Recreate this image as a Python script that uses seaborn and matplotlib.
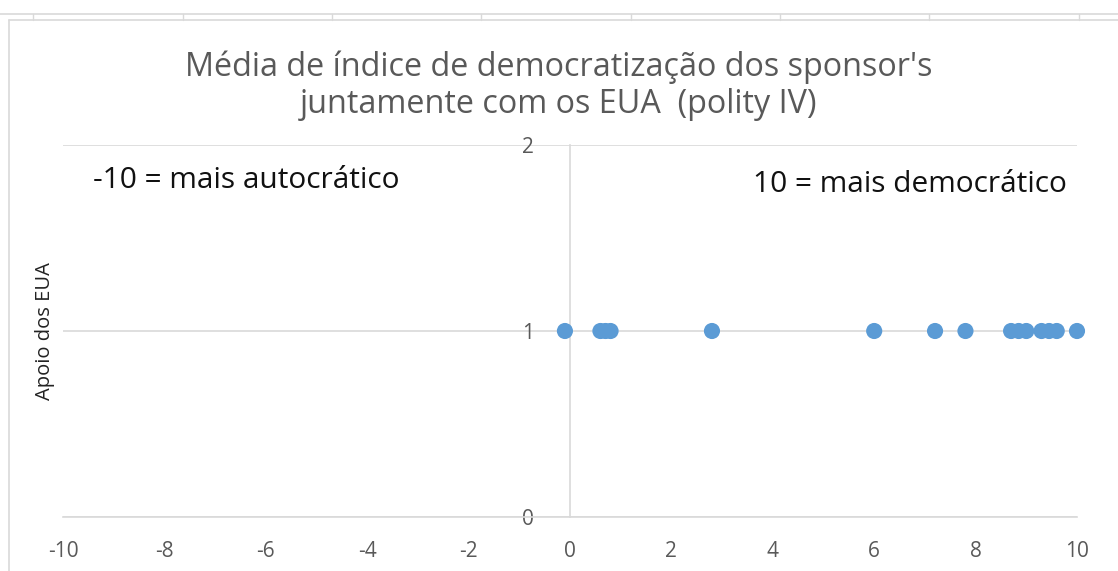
import matplotlib.pyplot as plt
import seaborn as sns
import pandas as pd
from matplotlib.lines import Line2D

# Média polity IV dos sponsors (eixo x) e apoio dos EUA (eixo y)
POLITY = [-0.1, 0.6, 0.7, 0.8, 2.8, 6.0, 7.2, 7.8, 8.7, 8.85, 9.0, 9.3, 9.45, 9.6, 10.0]
APOIO = [1] * len(POLITY)
X_TICKS = list(range(-10, 11, 2))
Y_TICKS = [0, 1, 2]
TITLE = "Média de índice de democratização dos sponsor's\njuntamente com os EUA  (polity IV)"
OUTPUT_FILE = "out.png"

df = pd.DataFrame({"polity": POLITY, "apoio": APOIO})

sns.set_style("white")
plt.rcParams["font.family"] = ["Open Sans", "DejaVu Sans"]
plt.rcParams["axes.unicode_minus"] = False

fig = plt.figure(figsize=(11.18, 5.71), dpi=100)
ax = fig.add_axes([63 / 1118, 1 - 517 / 571, (1077 - 63) / 1118, (517 - 145) / 571])

# spreadsheet chrome behind the chart
grid_c = "#d9d9d9"
fig.add_artist(Line2D([0, 1], [1 - 14 / 571, 1 - 14 / 571], color=grid_c, lw=1.2))
for px in [33, 183, 332, 481, 631, 780, 929, 1079]:
    fig.add_artist(Line2D([px / 1118, px / 1118], [1 - 14 / 571, 1 - 20 / 571], color=grid_c, lw=1))
fig.add_artist(Line2D([9 / 1118, 1], [1 - 20 / 571, 1 - 20 / 571], color=grid_c, lw=1.2))
fig.add_artist(Line2D([9 / 1118, 9 / 1118], [0, 1 - 20 / 571], color=grid_c, lw=1.2))

sns.scatterplot(data=df, x="polity", y="apoio", ax=ax, color="#5B9BD5",
                s=135, edgecolor="none", zorder=3, clip_on=False)

ax.set_xlim(-10, 10)
ax.set_ylim(0, 2)
ax.set_xticks(X_TICKS)
ax.set_yticks(Y_TICKS)
ax.grid(axis="y", color=grid_c, lw=1.2)
ax.set_axisbelow(True)

for s in ["top", "right"]:
    ax.spines[s].set_visible(False)
ax.spines["left"].set_position(("data", 0))
ax.spines["left"].set_color(grid_c)
ax.spines["bottom"].set_color(grid_c)
ax.spines["left"].set_linewidth(1.2)
ax.spines["bottom"].set_linewidth(1.2)

ax.tick_params(axis="x", length=0, pad=17, labelsize=15, labelcolor="#595959")
ax.tick_params(axis="y", length=0, pad=26, labelsize=15, labelcolor="#595959")

ax.set_xlabel("")
ax.set_ylabel("")
fig.text(45 / 1118, 1 - 331 / 571, "Apoio dos EUA", rotation=90, ha="center", va="center",
         fontsize=14.5, color="#222222")

fig.text(559 / 1118, 1 - 86 / 571, TITLE, ha="center", va="center", fontsize=23.3,
         color="#595959", linespacing=1.15)

ax.text(-9.4, 1.81, "-10 = mais autocrático", fontsize=21.5, color="#111111", va="center")
ax.text(9.8, 1.79, "10 = mais democrático", fontsize=21.5, color="#111111", va="center", ha="right")

plt.savefig(OUTPUT_FILE, dpi=100)
